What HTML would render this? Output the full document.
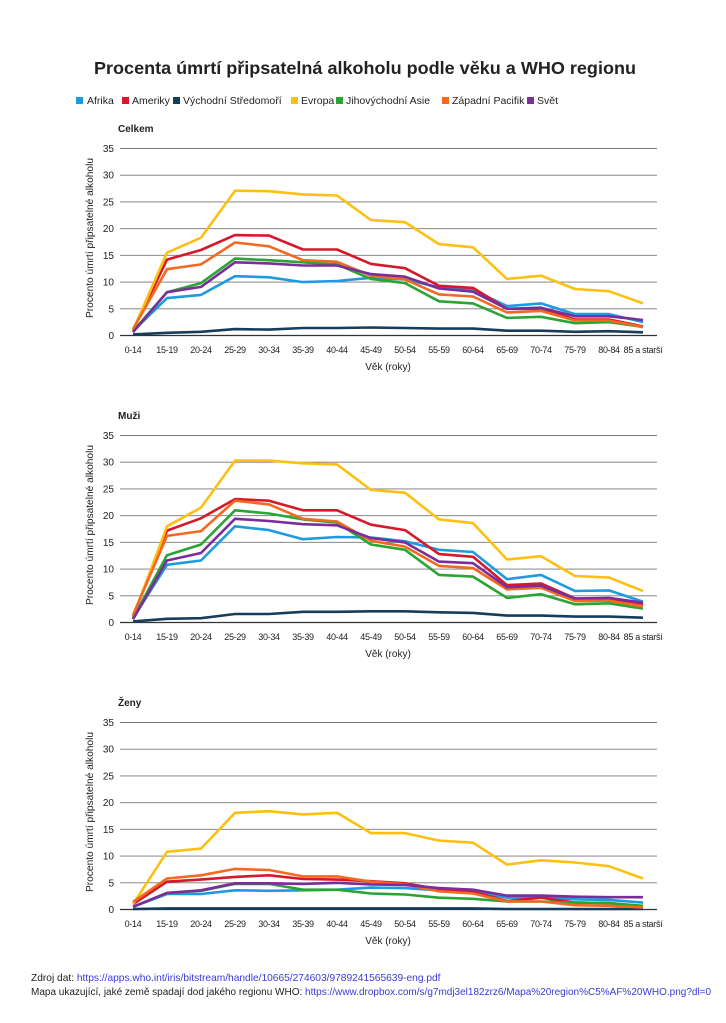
<!DOCTYPE html>
<html><head><meta charset="utf-8"><style>
body{margin:0;background:#fff;width:726px;height:1023px;overflow:hidden;font-family:"Liberation Sans",sans-serif;}
svg text{font-family:"Liberation Sans",sans-serif;fill:#222;}
.foot{position:absolute;left:31px;font-size:10.2px;color:#222;white-space:nowrap;}
.foot a{color:#3b3bd6;text-decoration:none;}
</style></head><body>
<svg id="s" width="726" height="1023" style="position:absolute;left:0;top:0">
<text x="365" y="74" text-anchor="middle" font-size="17.5" font-weight="bold" fill="#111" textLength="542" lengthAdjust="spacingAndGlyphs">Procenta úmrtí připsatelná alkoholu podle věku a WHO regionu</text>
<g font-size="10.5">
<rect x="76" y="97" width="7" height="7" fill="#1e9be0"/><text x="87" y="104">Afrika</text>
<rect x="122" y="97" width="7" height="7" fill="#d7182a"/><text x="132" y="104">Ameriky</text>
<rect x="173" y="97" width="7" height="7" fill="#173d5c"/><text x="183" y="104">Východní Středomoří</text>
<rect x="291" y="97" width="7" height="7" fill="#fdc010"/><text x="301" y="104">Evropa</text>
<rect x="336" y="97" width="7" height="7" fill="#2aa534"/><text x="346" y="104">Jihovýchodní Asie</text>
<rect x="442" y="97" width="7" height="7" fill="#f26a21"/><text x="452" y="104">Západní Pacifik</text>
<rect x="527" y="97" width="7" height="7" fill="#7b2d9a"/><text x="537" y="104">Svět</text>
</g>
<g id="charts"></g>
</svg>
<div class="foot" style="top:973px">Zdroj dat: <a>https://apps.who.int/iris/bitstream/handle/10665/274603/9789241565639-eng.pdf</a></div>
<div class="foot" style="top:987px;font-size:10px">Mapa ukazující, jaké země spadají dod jakého regionu WHO: <a>https://www.dropbox.com/s/g7mdj3el182zrz6/Mapa%20region%C5%AF%20WHO.png?dl=0</a></div>
<script>
var cats=["0-14","15-19","20-24","25-29","30-34","35-39","40-44","45-49","50-54","55-59","60-64","65-69","70-74","75-79","80-84","85 a starší"];
var cols=["#1e9be0","#d7182a","#173d5c","#fdc010","#2aa534","#f26a21","#7b2d9a"];
var data=[
{t:"Celkem",d:[
[0.8,7,7.6,11.1,10.9,10,10.2,10.8,10.5,9,8.5,5.5,6,4,4,2.5],
[1,14.2,16,18.8,18.7,16.1,16.1,13.4,12.6,9.3,8.9,5,5,3,3,1.7],
[0.2,0.5,0.7,1.2,1.1,1.4,1.4,1.5,1.4,1.3,1.3,0.9,0.9,0.7,0.8,0.6],
[1,15.5,18.3,27.1,27,26.4,26.2,21.6,21.2,17.1,16.5,10.6,11.2,8.7,8.3,6],
[0.8,8.1,9.8,14.4,14.1,13.7,13.3,10.6,9.8,6.4,6,3.3,3.5,2.3,2.5,1.6],
[1.2,12.4,13.3,17.4,16.7,14.1,13.8,11.2,10.5,7.7,7.3,4.3,4.6,2.8,2.8,1.6],
[0.6,8.1,9.1,13.7,13.5,13.1,13.1,11.5,11,8.8,8.2,5,5.2,3.6,3.6,2.9]]},
{t:"Muži",d:[
[0.8,10.8,11.6,18,17.3,15.6,16,15.9,15.2,13.6,13.2,8.1,8.9,5.9,6,3.9],
[1.2,17.2,19.5,23.1,22.8,21,21,18.3,17.3,12.8,12.3,7,7.3,4.5,4.5,3.5],
[0.2,0.7,0.8,1.6,1.6,2,2,2.1,2.1,1.9,1.8,1.3,1.3,1.1,1.1,0.9],
[1,18,21.5,30.3,30.3,29.8,29.6,24.8,24.3,19.3,18.6,11.8,12.4,8.7,8.4,5.9],
[0.8,12.6,14.6,21,20.4,19.3,18.7,14.6,13.6,8.9,8.6,4.6,5.3,3.4,3.6,2.6],
[1.4,16.2,17.1,22.8,22.1,19.4,18.9,15.3,14.2,10.6,10.2,6.2,6.5,4,4.1,3],
[0.6,11.6,13,19.4,19,18.4,18.2,15.8,15,11.4,11.1,6.6,6.9,4.5,4.6,3.7]]},
{t:"Ženy",d:[
[0.5,2.9,2.9,3.6,3.5,3.6,3.7,4.1,4,3.6,3.5,2.2,2.3,1.9,1.8,1.3],
[1,5.2,5.6,6.1,6.4,5.7,5.6,5.3,4.9,3.8,3.3,1.6,2.2,1.3,1.2,0.6],
[0.1,0.2,0.2,0.2,0.2,0.2,0.2,0.2,0.2,0.2,0.2,0.1,0.1,0.1,0.1,0.1],
[1,10.8,11.4,18.1,18.4,17.8,18.1,14.3,14.3,12.9,12.5,8.4,9.2,8.8,8.1,5.8],
[0.5,3.1,3.5,4.8,4.8,3.7,3.7,3,2.8,2.2,2,1.5,1.5,1.3,1.2,0.7],
[1.4,5.8,6.4,7.6,7.4,6.2,6.2,5.2,4.7,3.4,3,1.5,1.5,0.8,0.7,0.4],
[0.5,3.1,3.6,4.9,4.9,4.8,5,4.7,4.6,4,3.7,2.6,2.6,2.4,2.3,2.3]]}];
var h="";
var offs=[0,287,574];
data.forEach(function(c,i){
 var o=offs[i],y0=335.5+o,sc=187/35;
 h+='<text x="118" y="'+(132+o)+'" font-size="10" font-weight="bold" fill="#111">'+c.t+'</text>';
 for(var k=0;k<=7;k++){var y=y0-k*5*sc;
  h+='<line x1="120" x2="657" y1="'+y+'" y2="'+y+'" stroke="'+(k==0?'#333':'#777')+'" stroke-width="'+(k==0?1.2:0.9)+'"/>';
  h+='<text x="114" y="'+(y+3.5)+'" font-size="10" text-anchor="end">'+(k*5)+'</text>';}
 h+='<text transform="translate(93,'+(238+o)+') rotate(-90)" font-size="10" text-anchor="middle" textLength="160" lengthAdjust="spacingAndGlyphs">Procento úmrtí připsatelné alkoholu</text>';
 cats.forEach(function(t,j){h+='<text x="'+(133+j*34)+'" y="'+(353+o)+'" font-size="9" letter-spacing="-0.3" text-anchor="middle">'+t+'</text>';});
 h+='<text x="388" y="'+(370+o)+'" font-size="10" text-anchor="middle">Věk (roky)</text>';
 c.d.forEach(function(s,n){var p=s.map(function(v,j){return (133+j*34)+','+(y0-v*sc).toFixed(1)}).join(' ');
  h+='<polyline points="'+p+'" fill="none" stroke="'+cols[n]+'" stroke-width="2.6" stroke-linejoin="round"/>';});
});
document.getElementById("charts").innerHTML=h;
</script>
</body></html>
